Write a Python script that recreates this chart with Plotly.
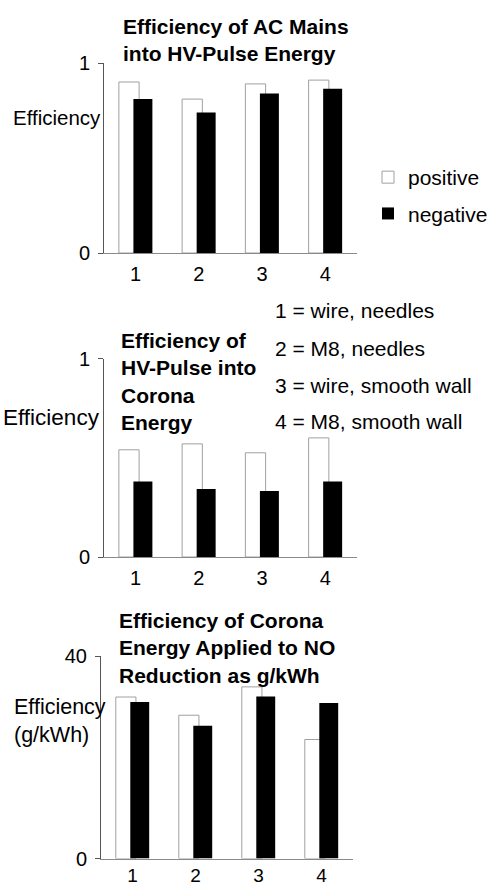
import plotly.graph_objects as go

W, H = 496, 885

categories = [1, 2, 3, 4]
category_labels = ["1", "2", "3", "4"]
category_names = ["1 = wire, needles", "2 = M8, needles",
                  "3 = wire, smooth wall", "4 = M8, smooth wall"]

# Chart 1: efficiency of AC mains into HV-pulse energy
mains_positive = [0.90, 0.81, 0.89, 0.91]
mains_negative = [0.81, 0.74, 0.84, 0.865]

# Chart 2: efficiency of HV-pulse into corona energy
corona_positive = [0.54, 0.57, 0.525, 0.60]
corona_negative = [0.38, 0.343, 0.333, 0.38]

# Chart 3: efficiency of corona energy applied to NO reduction (g/kWh)
no_positive = [31.9, 28.3, 33.9, 23.5]
no_negative = [30.9, 26.2, 32.0, 30.7]

titles = ["<b>Efficiency of AC Mains<br>into HV-Pulse Energy</b>",
          "<b>Efficiency of<br>HV-Pulse into<br>Corona<br>Energy</b>",
          "<b>Efficiency of Corona<br>Energy Applied to NO<br>Reduction as g/kWh</b>"]
y_titles = ["Efficiency", "Efficiency", "Efficiency<br>(g/kWh)"]
y_ranges = [[0, 1], [0, 1], [0, 40]]
y_ticks = [[0, 1], [0, 1], [0, 40]]

FONT = "Liberation Sans, Arial, sans-serif"


def px(x):
    return x / W


def py(y):
    return 1 - y / H


fig = go.Figure()

series = [(mains_positive, mains_negative),
          (corona_positive, corona_negative),
          (no_positive, no_negative)]

for i, (pos, neg) in enumerate(series):
    xa = "x" if i == 0 else f"x{i+1}"
    ya = "y" if i == 0 else f"y{i+1}"
    fig.add_trace(go.Bar(
        x=categories, y=pos, name="positive", xaxis=xa, yaxis=ya,
        offset=-0.265, width=0.32,
        marker=dict(color="white", line=dict(color="#a0a0a0", width=1)),
        showlegend=(i == 0), legendgroup="positive", hoverinfo="skip"))
    fig.add_trace(go.Bar(
        x=categories, y=neg, name="negative", xaxis=xa, yaxis=ya,
        offset=-0.035, width=0.30,
        marker=dict(color="black", line=dict(color="black", width=0)),
        showlegend=(i == 0), legendgroup="negative", hoverinfo="skip"))

# axis geometry (pixels)
x_dom = [(104, 357), (104, 357), (101, 353)]
y_dom = [(253, 63), (557, 358.5), (858.5, 656)]
x_standoff = [3, 3, 0]

layout = dict(
    width=W, height=H,
    margin=dict(l=0, r=0, t=0, b=0, autoexpand=False),
    paper_bgcolor="white", plot_bgcolor="white",
    barmode="overlay",
    font=dict(family=FONT, size=21, color="black"),
    showlegend=True,
    legend=dict(x=px(368), y=py(157), xanchor="left", yanchor="top",
                font=dict(size=21), tracegroupgap=6,
                bgcolor="rgba(0,0,0,0)"),
)

for i in range(3):
    xk = "xaxis" if i == 0 else f"xaxis{i+1}"
    yk = "yaxis" if i == 0 else f"yaxis{i+1}"
    ya = "y" if i == 0 else f"y{i+1}"
    xa = "x" if i == 0 else f"x{i+1}"
    layout[xk] = dict(
        domain=[px(x_dom[i][0]), px(x_dom[i][1])], anchor=ya,
        range=[0.5, 4.5], tickvals=categories, ticktext=category_labels,
        showline=True, linecolor="#8a8a8a", linewidth=1, automargin=False,
        showgrid=False, zeroline=False, ticks="",
        ticklabelstandoff=x_standoff[i],
        tickfont=dict(size=20 if i < 2 else 19))
    layout[yk] = dict(
        domain=[py(y_dom[i][0]), py(y_dom[i][1])], anchor=xa,
        range=y_ranges[i], tickvals=y_ticks[i], automargin=False,
        showline=True, linecolor="#555555", linewidth=1,
        showgrid=False, zeroline=False, ticks="outside", ticklen=5,
        tickcolor="#555555", ticklabelstandoff=4,
        tickfont=dict(size=20))

fig.update_layout(**layout)

# titles
title_pos = [(121, 40), (119, 382), (117, 648)]
for t, (x, y) in zip(titles, title_pos):
    fig.add_annotation(text=t, x=px(x), y=py(y), xref="paper", yref="paper",
                       xanchor="left", yanchor="middle", align="left",
                       showarrow=False, font=dict(size=21, color="black"))

# y-axis labels (horizontal)
ylab_pos = [(11, 118, 20.5), (1, 417, 22.5), (12, 721, 21.5)]
for t, (x, y, s) in zip(y_titles, ylab_pos):
    fig.add_annotation(text=t, x=px(x), y=py(y), xref="paper", yref="paper",
                       xanchor="left", yanchor="middle", align="left",
                       showarrow=False, font=dict(size=s, color="black"))

# category key
key_y = [311, 348, 385, 422]
for t, y in zip(category_names, key_y):
    fig.add_annotation(text=t, x=px(273), y=py(y), xref="paper", yref="paper",
                       xanchor="left", yanchor="middle", align="left",
                       showarrow=False, font=dict(size=21, color="black"))

fig.write_html(
    "out.html",
    config={"displayModeBar": False},
    post_script="document.body.style.margin='0px';"
                "document.body.style.overflow='hidden';")
